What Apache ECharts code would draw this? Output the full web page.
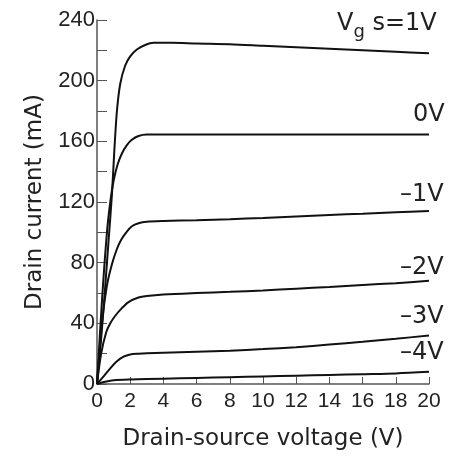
<!DOCTYPE html>
<html>
<head>
<meta charset="utf-8">
<script src="https://cdn.jsdelivr.net/npm/echarts@6/dist/echarts.min.js"></script>
<style>
  html, body { margin: 0; padding: 0; background: #fff; }
  #chart { width: 467px; height: 456px; }
</style>
</head>
<body>
<div id="chart"></div>
<script>
  // drain curves, [Vds (V), Id (mA)], one array per gate voltage
  var vgsP1 = [[0,0],[0.25,30],[0.5,65],[0.7,95],[0.9,125],[1.05,155],[1.2,180],[1.4,198],[1.7,210],[2,216],[2.4,220.5],[2.9,223.5],[3.4,225],[4.5,225],[6,224.5],[8,224],[10,223],[12,222],[14,221],[16,220],[18,219],[20,218]];
  var vgs0  = [[0,0],[0.3,55],[0.6,100],[0.8,120],[1,134],[1.25,145],[1.5,152],[1.8,157.5],[2.1,161],[2.5,163.5],[3,164.5],[5,164.5],[10,164.5],[20,164.5]];
  var vgsM1 = [[0,0],[0.3,40],[0.6,65],[0.9,79],[1.2,89],[1.45,95],[1.8,100.5],[2.1,104],[2.5,106],[3,107],[4,107.5],[6,108],[8,108.7],[10,109.5],[12,110.5],[14,111.5],[16,112.3],[18,113.2],[20,114]];
  var vgsM2 = [[0,0],[0.25,20],[0.55,34],[0.8,40],[1.1,45],[1.5,50],[1.9,54],[2.5,57],[3,58],[4,59],[6,60],[8,60.8],[10,61.7],[12,62.8],[14,64],[16,65.3],[18,66.5],[20,68]];
  var vgsM3 = [[0,0],[0.4,5],[0.85,11],[1.2,15],[1.6,18],[2,19.5],[2.5,20],[3,20.3],[5,21],[8,22],[10,23],[12,24.3],[14,26],[16,27.8],[18,29.8],[20,32]];
  var vgsM4 = [[0,0],[0.5,1.5],[1,2.5],[2,3],[4,3.5],[6,4],[8,4.5],[10,5],[12,5.5],[14,6],[16,6.5],[18,7],[20,8]];
  var curveNames = ['1V', '0V', '-1V', '-2V', '-3V', '-4V'];

  var chart = echarts.init(document.getElementById('chart'));
  var font = 'Liberation Sans, Arial, sans-serif';
  var wide = 'DejaVu Sans, sans-serif';

  var series = [vgsP1, vgs0, vgsM1, vgsM2, vgsM3, vgsM4].map(function (d, i) {
    return {
      name: curveNames[i],
      type: 'line',
      data: d,
      smooth: 0.3,
      showSymbol: false,
      lineStyle: { color: '#111', width: 2 }
    };
  });

  function label(txt, x, y) {
    return { type: 'text', left: x, top: y, style: { text: txt, fontSize: 24, fontFamily: wide, fill: '#222' } };
  }

  var option = {
    backgroundColor: '#fff',
    animation: false,
    grid: { left: 97, right: 38, top: 20, bottom: 72 },
    xAxis: {
      type: 'value',
      min: 0, max: 20, interval: 2,
      name: 'Drain-source voltage (V)',
      nameLocation: 'middle',
      nameGap: 44,
      nameTextStyle: { color: '#222', fontSize: 23, fontFamily: wide },
      axisLine: { lineStyle: { color: '#555', width: 1.5 } },
      axisTick: { inside: true, length: 7, lineStyle: { color: '#555' } },
      axisLabel: { color: '#222', fontSize: 21, fontFamily: font, margin: 7 },
      splitLine: { show: false }
    },
    yAxis: {
      type: 'value',
      min: 0, max: 240, interval: 40,
      name: 'Drain current (mA)',
      nameLocation: 'middle',
      nameGap: 50,
      nameTextStyle: { color: '#222', fontSize: 23, fontFamily: wide },
      axisLine: { show: true, lineStyle: { color: '#555', width: 1.5 } },
      axisTick: { show: true, inside: true, length: 10, lineStyle: { color: '#555' } },
      minorTick: { show: true, splitNumber: 2, length: 10, lineStyle: { color: '#555' } },
      axisLabel: { color: '#222', fontSize: 22, fontFamily: font, margin: 2 },
      splitLine: { show: false }
    },
    graphic: [
      { type: 'text', left: 337, top: 12, style: {
        text: '{a|V}{b|g}{a| s=1V}', fill: '#222',
        rich: {
          a: { fontSize: 24, fontFamily: wide, fill: '#222' },
          b: { fontSize: 18, fontFamily: wide, fill: '#222', padding: [16, 0, 0, 0] }
        }
      } },
      label('0V', 413, 103),
      label('\u20131V', 400, 183),
      label('\u20132V', 400, 256),
      label('\u20133V', 400, 305),
      label('\u20134V', 400, 341)
    ],
    series: series
  };

  chart.setOption(option);
</script>
</body>
</html>
